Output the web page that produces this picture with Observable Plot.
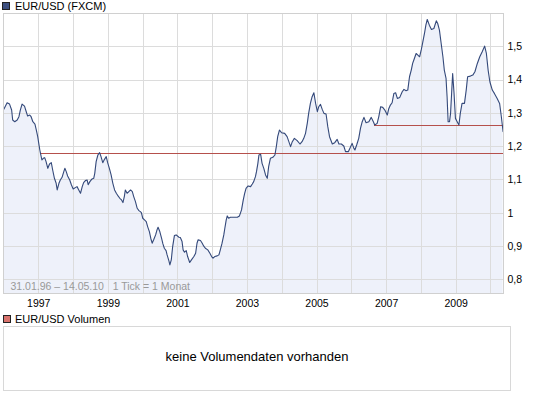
<!DOCTYPE html>
<html><head><meta charset="utf-8">
<script src="https://cdn.jsdelivr.net/npm/d3@7"></script>
<script src="https://cdn.jsdelivr.net/npm/@observablehq/plot@0.6"></script>
<style>
body{margin:0;background:#fff;font-family:"Liberation Sans",Arial,sans-serif;}
#wrap{position:relative;width:545px;height:395px;overflow:hidden;background:#fff;}
#chart{position:absolute;left:0;top:0;}
.leg{position:absolute;font-size:11px;color:#000;white-space:nowrap;line-height:11px;}
.sq{position:absolute;width:6px;height:6px;border:1px solid #222;}
#vol{position:absolute;left:3px;top:326px;width:508px;height:65px;border:1px solid #d8d8d8;box-sizing:border-box;}
#voltxt{position:absolute;left:0;width:100%;top:22px;text-align:center;font-size:13px;line-height:15px;color:#000;}
</style></head>
<body>
<div id="wrap">
  <div id="chart"></div>
  <div class="sq" style="left:2px;top:2px;background:#3d5080;"></div>
  <div class="leg" style="left:15px;top:1px;">EUR/USD (FXCM)</div>
  <div class="sq" style="left:3px;top:315px;background:#d9736d;"></div>
  <div class="leg" style="left:15px;top:314px;">EUR/USD Volumen</div>
  <div id="vol"><div id="voltxt">keine Volumendaten vorhanden</div></div>
</div>
<script>
// decimal-year positions, with EUR/USD values
const dates = [
1996.00,1996.09,1996.16,1996.22,1996.25,1996.31,1996.38,1996.43,1996.47,1996.52,1996.59,1996.64,1996.68,1996.74,1996.78,1996.83,1996.89,1996.93,1996.97,
1997.00,1997.03,1997.05,1997.09,1997.13,1997.17,1997.21,1997.26,1997.31,1997.36,1997.40,1997.45,1997.50,1997.53,1997.58,1997.62,1997.67,1997.72,1997.75,1997.79,1997.83,1997.89,1997.94,1997.99,
1998.05,1998.10,1998.15,1998.20,1998.25,1998.29,1998.34,1998.39,1998.42,1998.47,1998.52,1998.58,1998.61,1998.65,1998.70,1998.75,1998.79,1998.84,1998.89,1998.94,1998.98,
1999.03,1999.08,1999.13,1999.18,1999.23,1999.28,1999.33,1999.38,1999.42,1999.46,1999.49,1999.54,1999.59,1999.64,1999.69,1999.73,1999.78,1999.83,1999.88,1999.92,1999.95,1999.99,
2000.04,2000.09,2000.13,2000.18,2000.22,2000.26,2000.31,2000.36,2000.40,2000.43,2000.48,2000.53,2000.57,2000.61,2000.66,2000.69,2000.74,2000.77,2000.81,2000.85,2000.90,2000.95,
2001.03,2001.07,2001.12,2001.15,2001.19,2001.24,2001.28,2001.34,2001.39,2001.46,2001.51,2001.55,2001.58,2001.65,2001.70,2001.74,2001.79,2001.86,2001.92,2001.97,
2002.01,2002.06,2002.13,2002.18,2002.22,2002.27,2002.32,2002.35,2002.39,2002.42,2002.46,2002.51,2002.61,2002.71,2002.77,2002.83,2002.88,2002.92,2002.96,
2003.02,2003.09,2003.14,2003.18,2003.23,2003.26,2003.30,2003.33,2003.38,2003.42,2003.47,2003.52,2003.57,2003.61,2003.66,2003.73,2003.79,2003.83,2003.87,2003.92,2003.98,
2004.07,2004.14,2004.19,2004.24,2004.29,2004.35,2004.43,2004.51,2004.57,2004.62,2004.67,2004.72,2004.76,2004.81,2004.86,2004.91,2004.96,
2005.01,2005.05,2005.10,2005.15,2005.20,2005.26,2005.31,2005.36,2005.44,2005.51,2005.58,2005.63,2005.70,2005.77,2005.82,2005.90,2005.96,
2006.01,2006.06,2006.09,2006.14,2006.20,2006.25,2006.30,2006.35,2006.41,2006.49,2006.56,2006.62,2006.66,2006.73,2006.78,2006.83,2006.89,2006.95,
2007.02,2007.06,2007.11,2007.16,2007.21,2007.26,2007.31,2007.38,2007.45,2007.50,2007.56,2007.61,2007.66,2007.71,2007.75,2007.80,2007.85,2007.90,2007.95,
2008.00,2008.04,2008.09,2008.13,2008.17,2008.23,2008.29,2008.36,2008.43,2008.47,2008.52,2008.57,2008.62,2008.66,2008.71,2008.74,2008.77,2008.81,2008.84,2008.87,2008.90,2008.94,2008.98,
2009.03,2009.08,2009.12,2009.17,2009.24,2009.29,2009.33,2009.41,2009.48,2009.54,2009.61,2009.68,2009.75,2009.82,2009.87,2009.92,2009.97,
2010.04,2010.10,2010.18,2010.25,2010.30,2010.35
];
const eurusd = [
1.313,1.332,1.328,1.31,1.28,1.275,1.28,1.29,1.31,1.328,1.322,1.305,1.292,1.295,1.29,1.275,1.268,1.25,1.23,
1.21,1.19,1.18,1.16,1.165,1.167,1.155,1.135,1.148,1.152,1.13,1.105,1.09,1.07,1.09,1.10,1.108,1.125,1.135,1.125,1.112,1.10,1.085,1.073,
1.077,1.08,1.07,1.06,1.08,1.092,1.098,1.10,1.086,1.095,1.102,1.105,1.12,1.155,1.175,1.182,1.17,1.152,1.162,1.17,1.152,
1.135,1.115,1.09,1.07,1.06,1.052,1.045,1.04,1.032,1.05,1.07,1.06,1.065,1.07,1.065,1.05,1.035,1.015,1.008,1.005,1.002,0.985,
0.98,0.975,0.96,0.945,0.925,0.91,0.922,0.935,0.95,0.958,0.945,0.925,0.908,0.895,0.888,0.875,0.858,0.845,0.86,0.90,0.933,0.935,
0.928,0.927,0.915,0.89,0.883,0.888,0.87,0.852,0.86,0.87,0.88,0.91,0.92,0.918,0.91,0.902,0.895,0.89,0.88,0.87,
0.865,0.87,0.872,0.875,0.89,0.91,0.935,0.955,0.98,0.992,0.985,0.988,0.988,0.988,0.992,1.01,1.04,1.06,1.075,
1.082,1.08,1.088,1.095,1.11,1.125,1.15,1.175,1.177,1.15,1.135,1.115,1.105,1.14,1.165,1.168,1.175,1.20,1.23,1.25,1.242,
1.24,1.23,1.215,1.20,1.215,1.225,1.218,1.208,1.215,1.225,1.24,1.27,1.30,1.33,1.35,1.362,1.33,
1.305,1.32,1.327,1.312,1.30,1.298,1.26,1.23,1.208,1.212,1.222,1.208,1.208,1.202,1.185,1.185,1.198,
1.21,1.195,1.19,1.205,1.225,1.255,1.275,1.288,1.272,1.275,1.288,1.275,1.265,1.27,1.292,1.32,1.318,1.31,
1.295,1.313,1.325,1.332,1.36,1.362,1.345,1.348,1.365,1.372,1.368,1.37,1.41,1.43,1.45,1.465,1.48,1.475,1.47,
1.492,1.513,1.54,1.565,1.582,1.565,1.552,1.555,1.578,1.57,1.55,1.51,1.47,1.43,1.405,1.35,1.275,1.275,1.30,1.36,1.42,1.36,1.285,
1.275,1.265,1.30,1.33,1.33,1.37,1.41,1.412,1.415,1.425,1.45,1.47,1.485,1.502,1.48,1.43,1.395,
1.37,1.36,1.345,1.33,1.29,1.245
];
const refStarts = [1997.05, 2006.66];
const refLevels = [1.178, 1.265];
const xTickLabels = [1997, 1999, 2001, 2003, 2005, 2007, 2009];
const xGridYears = [1997, 1998, 1999, 2000, 2001, 2002, 2003, 2004, 2005, 2006, 2007, 2008, 2009, 2010];
const yTickValues = [0.8, 0.9, 1.0, 1.1, 1.2, 1.3, 1.4, 1.5];
const yGridValues = [0.8, 0.9, 1.0, 1.1, 1.2, 1.3, 1.4, 1.5, 1.6];
const caption = "31.01.96 \u2013 14.05.10   1 Tick = 1 Monat";

const xMin = 1995.986, xMax = 2010.362, yMin = 0.759, yMax = 1.6;
const data = dates.map((t, i) => ({t, v: eurusd[i]}));
const refs = refStarts.map((t, i) => ({t, v: refLevels[i]}));

const chart = Plot.plot({
  width: 545, height: 312,
  marginLeft: 3, marginRight: 42, marginTop: 13, marginBottom: 19,
  style: {fontFamily: "'Liberation Sans', Arial, sans-serif", fontSize: "10.5px", background: "white", color: "#000", overflow: "visible"},
  x: {type: "linear", domain: [xMin, xMax], label: null},
  y: {type: "linear", domain: [yMin, yMax], label: null},
  marks: [
    Plot.areaY(data, {x: "t", y1: yMin, y2: "v", fill: "#eef1fa"}),
    Plot.gridX(xGridYears, {stroke: "#dcdcdc", strokeOpacity: 1, shapeRendering: "crispEdges"}),
    Plot.gridY(yGridValues, {stroke: "#dcdcdc", strokeOpacity: 1, shapeRendering: "crispEdges"}),
    Plot.ruleY(refs, {y: "v", x1: "t", x2: xMax, stroke: "#b5504c", strokeWidth: 1, shapeRendering: "crispEdges"}),
    Plot.lineY(data, {x: "t", y: "v", stroke: "#34497a", strokeWidth: 1.1}),
    Plot.frame({stroke: "#d0d0d0", shapeRendering: "crispEdges"}),
    Plot.axisY(yTickValues, {anchor: "right", tickSize: 0, tickPadding: 4, tickFormat: d => String(Math.round(d * 10) / 10).replace(".", ",")}),
    Plot.axisX(xTickLabels, {anchor: "bottom", tickSize: 0, tickPadding: 6, tickFormat: d => String(d)}),
    Plot.text([caption], {frameAnchor: "bottom-left", dx: 7, dy: -7, lineAnchor: "middle", textAnchor: "start", fill: "#999999", fontSize: 10.5})
  ]
});
document.getElementById("chart").appendChild(chart);
</script>
</body></html>
